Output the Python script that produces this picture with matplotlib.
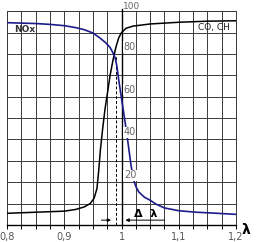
import matplotlib
matplotlib.use("Agg")
import matplotlib.pyplot as plt
import numpy as np

# ── Data ──────────────────────────────────────────────────────────────────────
co_lambda = [0.80, 0.85, 0.90, 0.92, 0.935, 0.945, 0.952, 0.957, 0.960, 0.963,
             0.967, 0.971, 0.975, 0.980, 0.985, 0.990, 0.995, 1.000, 1.008,
             1.02, 1.05, 1.10, 1.15, 1.20]
co_value = [5.5, 6.0, 6.5, 7.3, 8.5, 10, 12.5, 17, 25, 35,
            45, 54, 61, 70, 77, 83, 87.5, 90, 92,
            93, 94, 94.8, 95.3, 95.5]

nox_lambda = [0.80, 0.85, 0.875, 0.90, 0.92, 0.935, 0.95, 0.962, 0.972, 0.980,
              0.985, 0.989, 0.992, 0.995, 1.000, 1.004, 1.008, 1.012, 1.016,
              1.020, 1.025, 1.03, 1.04, 1.05, 1.06, 1.075, 1.10, 1.13, 1.16, 1.20]
nox_value = [94.6, 94.2, 93.8, 93.2, 92.3, 91.3, 89.8, 87.5, 85.3, 83,
             80.5, 78, 74, 68, 59, 52, 45, 37, 29,
             22, 18, 15.5, 13, 11.6, 9.8, 8, 6.7, 6, 5.6, 5]

cross_lambda = 0.9895
cross_value = 79

x_major = [0.8, 0.9, 1.0, 1.1, 1.2]
x_labels = ["0,8", "0,9", "1", "1,1", "1,2"]
y_labels = [20, 40, 60, 80]

# ── Figure ────────────────────────────────────────────────────────────────────
fig = plt.figure(figsize=(2.6, 2.42), dpi=100)
ax = fig.add_axes([0.027, 0.070, 0.881, 0.884])
ax.set_xlim(0.8, 1.2)
ax.set_ylim(0, 100)

grid_kw = dict(color="#3a3a3a", lw=0.7, zorder=1)
for gx in np.arange(0.8, 1.2001, 0.025):
    ax.axvline(gx, **grid_kw)
for gy in range(0, 101, 10):
    ax.axhline(gy, **grid_kw)

for s in ["top", "right", "left"]:
    ax.spines[s].set_color("#3a3a3a")
    ax.spines[s].set_linewidth(0.7)
ax.spines["bottom"].set_linewidth(1.0)

# central axis at lambda = 1
ax.plot([1.0, 1.0], [0, 101], color="black", lw=1.0, clip_on=False, zorder=3)

ax.plot(co_lambda, co_value, color="black", lw=1.1, zorder=4)
ax.plot(nox_lambda, nox_value, color="#1c1c8a", lw=1.2, zorder=5)
ax.plot([cross_lambda, cross_lambda], [0, cross_value], color="black",
        lw=0.7, ls=(0, (3, 2)), zorder=3)

# ticks
ax.set_xticks(np.arange(0.8, 1.2001, 0.025), minor=True)
ax.set_xticks(x_major)
ax.set_xticklabels(x_labels, fontsize=7, color="#555555")
ax.tick_params(axis="x", which="both", length=3, width=0.7, direction="out", pad=2)
ax.set_yticks([])

for v in y_labels:
    ax.text(1.004, v + 1.0, str(v), fontsize=7, color="#666666",
            ha="left", va="bottom", zorder=6,
            bbox=dict(facecolor="white", edgecolor="none", pad=0.3))
ax.text(1.003, 102.2, "100", fontsize=6.5, color="#666666",
        ha="left", va="center", zorder=6)

ax.text(0.812, 91.5, "NOx", fontsize=6.5, fontweight="bold", color="#333333",
        ha="left", va="center", zorder=6)
ax.text(1.19, 92.5, "CO, CH", fontsize=6.5, color="#222222",
        ha="right", va="center", zorder=6)

# delta lambda arrows
ax.annotate("", xy=(cross_lambda - 0.003, 2.3), xytext=(0.96, 2.3),
            arrowprops=dict(arrowstyle="-|>", color="black", lw=0.7,
                            mutation_scale=5), zorder=6)
ax.annotate("", xy=(1.002, 2.3), xytext=(1.08, 2.3),
            arrowprops=dict(arrowstyle="-|>", color="black", lw=0.7,
                            mutation_scale=5), zorder=6)
ax.text(1.042, 3.0, "Δ  λ", fontsize=8, fontweight="bold", ha="center",
        va="bottom", zorder=6)

fig.text(0.945, 0.022, "λ", fontsize=10, fontweight="bold", ha="center",
         va="bottom")

fig.savefig("out.png", dpi=100)
